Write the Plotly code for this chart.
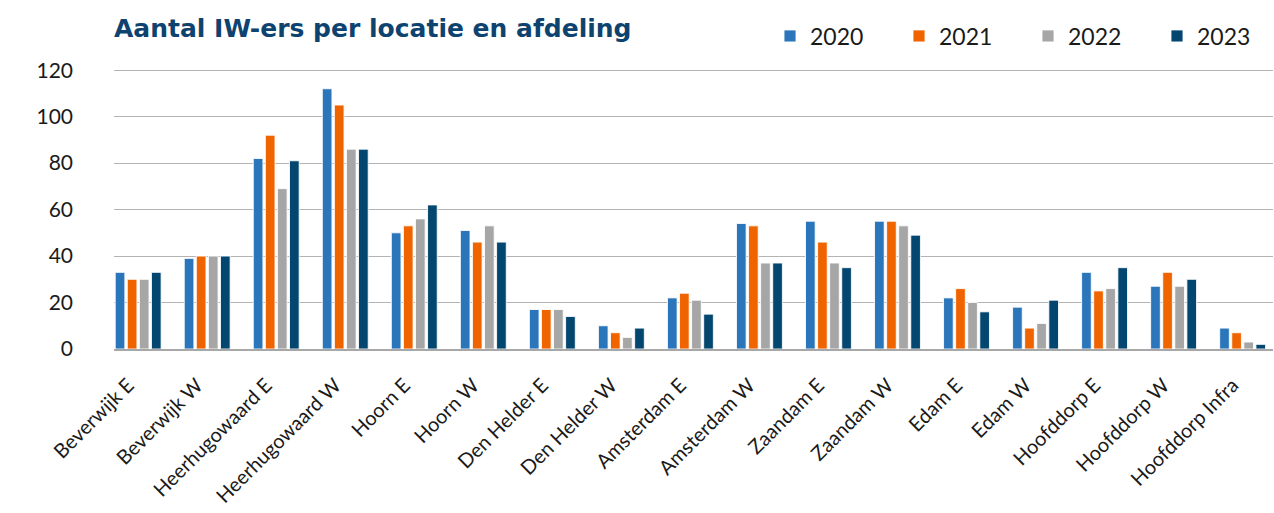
import plotly.graph_objects as go

categories = ["Beverwijk E", "Beverwijk W", "Heerhugowaard E", "Heerhugowaard W",
              "Hoorn E", "Hoorn W", "Den Helder E", "Den Helder W", "Amsterdam E",
              "Amsterdam W", "Zaandam E", "Zaandam W", "Edam E", "Edam W",
              "Hoofddorp E", "Hoofddorp W", "Hoofddorp Infra"]

v2020 = [33, 39, 82, 112, 50, 51, 17, 10, 22, 54, 55, 55, 22, 18, 33, 27, 9]
v2021 = [30, 40, 92, 105, 53, 46, 17, 7, 24, 53, 46, 55, 26, 9, 25, 33, 7]
v2022 = [30, 40, 69, 86, 56, 53, 17, 5, 21, 37, 37, 53, 20, 11, 26, 27, 3]
v2023 = [33, 40, 81, 86, 62, 46, 14, 9, 15, 37, 35, 49, 16, 21, 35, 30, 2]

series = [("2020", v2020, "#2B75BA"), ("2021", v2021, "#F06400"),
          ("2022", v2022, "#A6A6A6"), ("2023", v2023, "#03466F")]

fig = go.Figure()
for name, vals, col in series:
    fig.add_trace(go.Bar(
        x=categories, y=vals, name=name,
        marker=dict(color=col, line=dict(color="rgba(255,255,255,0.85)", width=1)),
    ))

FONT = "Lato, 'Liberation Sans', sans-serif"

fig.update_layout(
    width=1274, height=513,
    margin=dict(l=114, r=1, t=69, b=164, autoexpand=False),
    paper_bgcolor="white", plot_bgcolor="white",
    barmode="group", bargap=0.30, bargroupgap=0.2,
    font=dict(family=FONT, color="#1a1a1a"),
    title=dict(text="<b>Aantal IW-ers per locatie en afdeling</b>",
               x=114/1274, xanchor="left", xref="container",
               y=1-28/513, yanchor="middle", yref="container",
               font=dict(size=25, color="#0E4370", family="'DejaVu Sans', sans-serif")),
    legend=dict(orientation="h", x=770/1274, xanchor="left", xref="container",
                y=1-36/513, yanchor="middle", yref="container",
                font=dict(size=23, color="#1a1a1a"),
                entrywidth=84, entrywidthmode="pixels",
                bgcolor="rgba(0,0,0,0)"),
    showlegend=True,
)

fig.update_yaxes(range=[0, 120.5], tickvals=[0, 20, 40, 60, 80, 100, 120],
                 showgrid=True, gridcolor="#B4B4B4", gridwidth=1,
                 zeroline=False, showline=False, ticks="",
                 ticklabelstandoff=40, automargin=False,
                 tickfont=dict(size=21, color="#1a1a1a"))
fig.update_xaxes(range=[-0.35, 16.44],
                 showline=True, linecolor="#A8A8A8", linewidth=1.5,
                 ticks="", tickangle=-45, ticklabelstandoff=15, ticklabelshift=-10,
                 automargin=False,
                 tickfont=dict(size=20, color="#1a1a1a"))

fig.write_html("out.html", config={"displayModeBar": False},
               post_script="document.body.style.margin='0';document.body.style.overflow='hidden';")
